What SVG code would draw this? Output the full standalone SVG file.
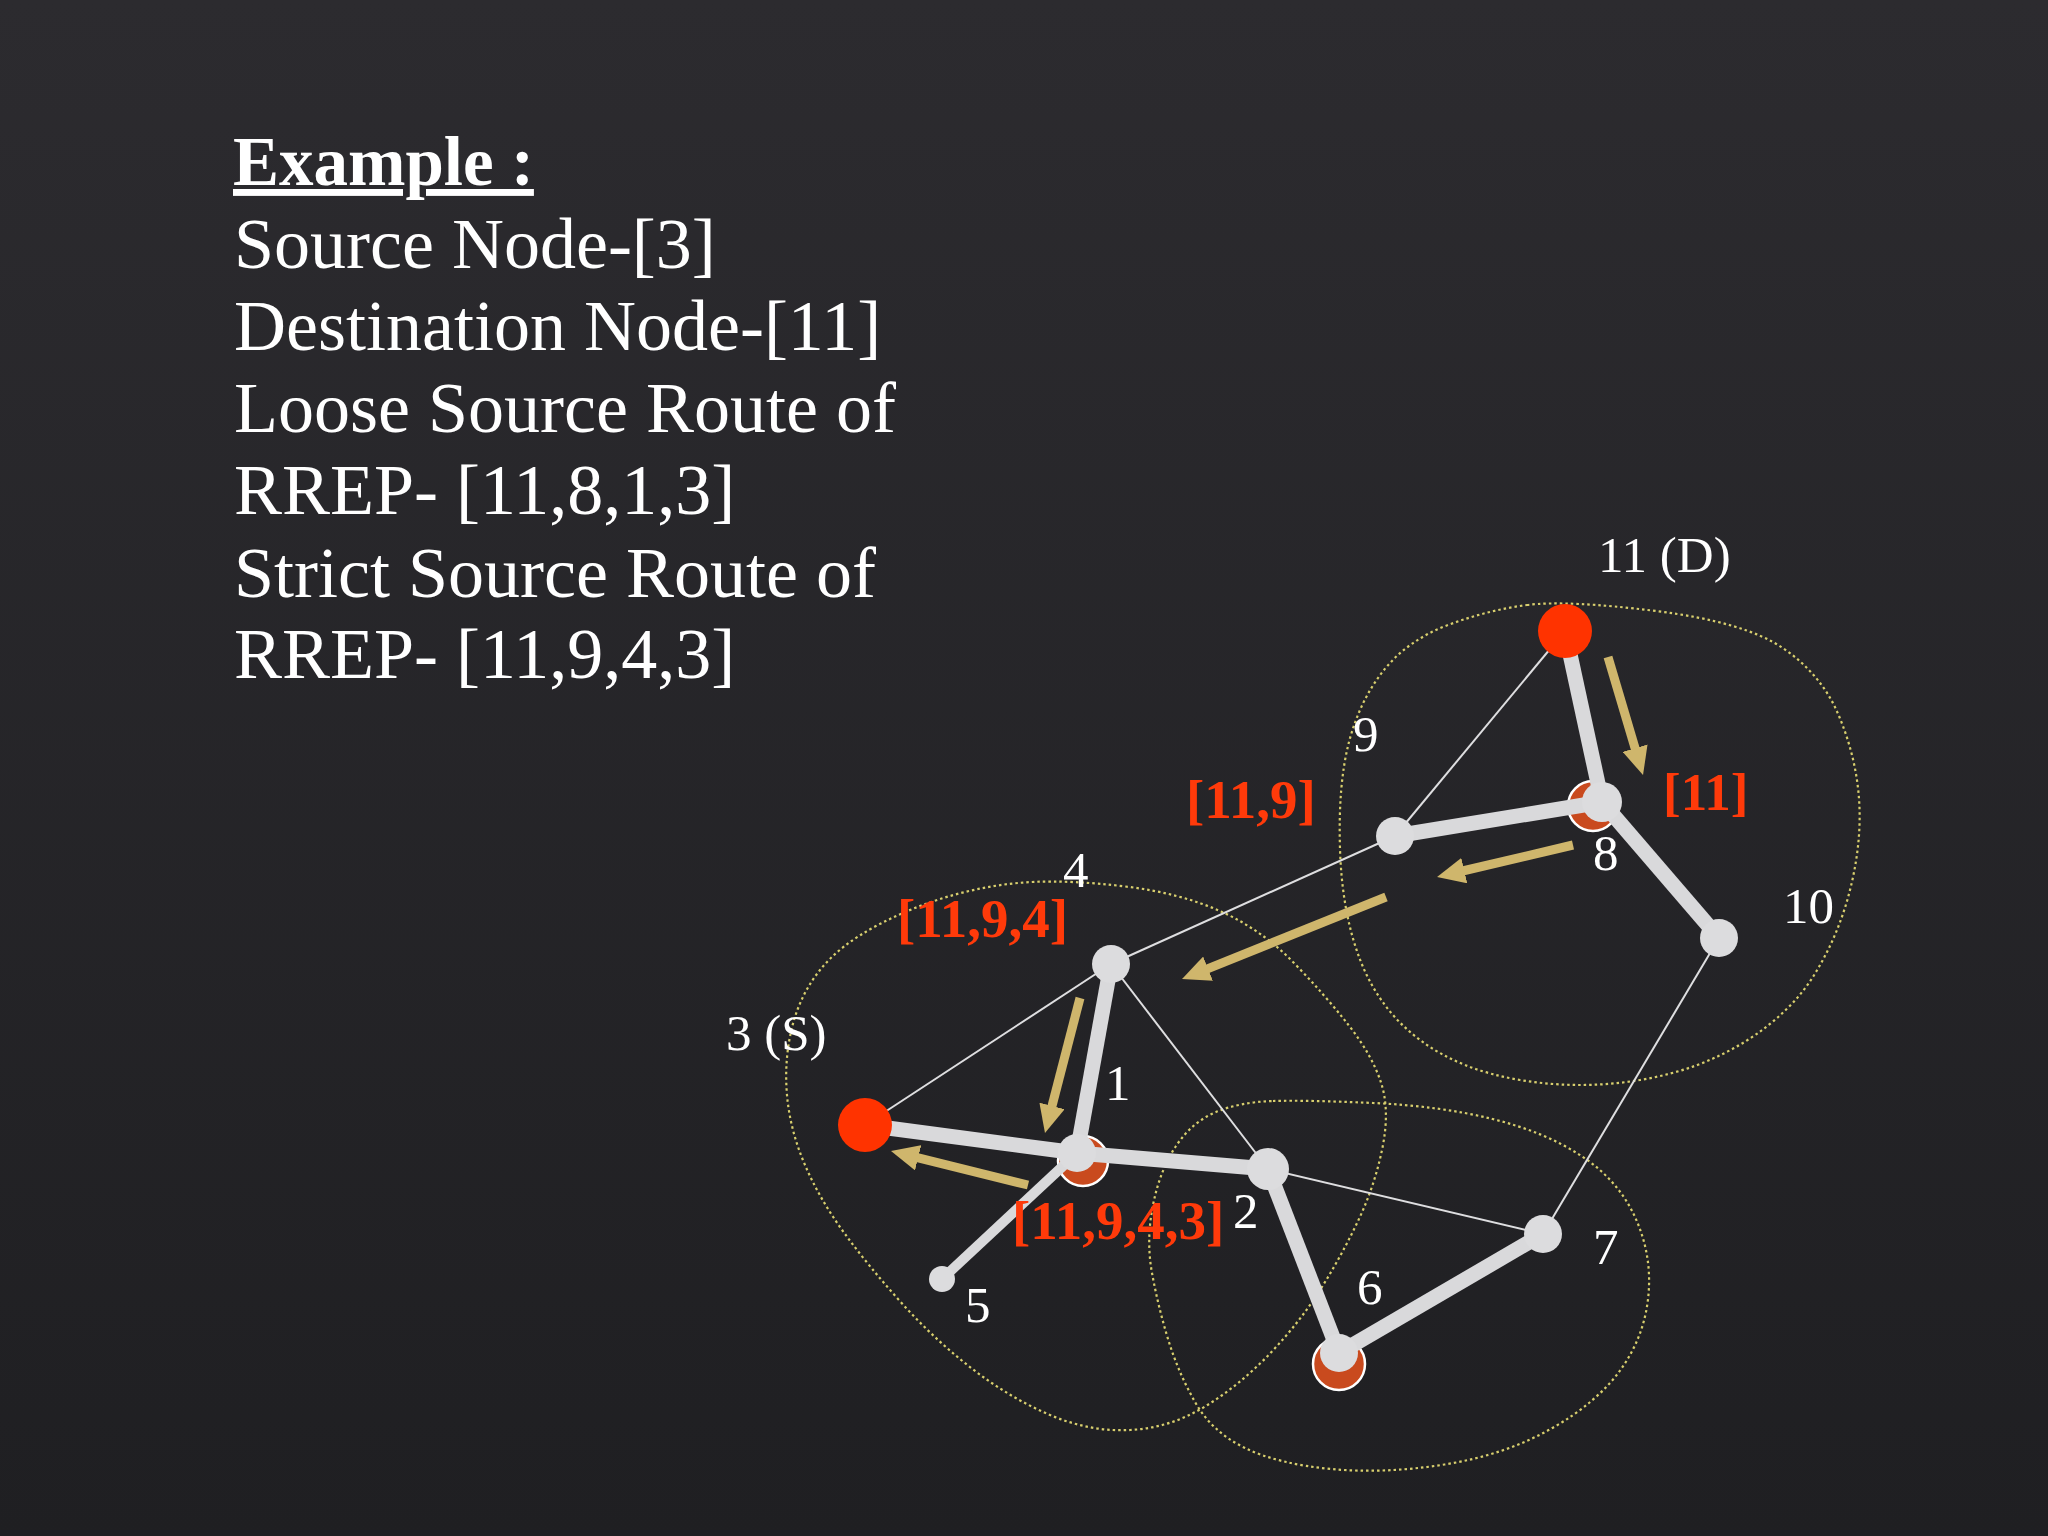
<svg xmlns="http://www.w3.org/2000/svg" width="2048" height="1536" viewBox="0 0 2048 1536">
  <defs>
    <linearGradient id="bg" x1="0" y1="0" x2="0" y2="1">
      <stop offset="0" stop-color="#2c2b2f"/>
      <stop offset="1" stop-color="#1f1f22"/>
    </linearGradient>
    <marker id="ah" viewBox="0 0 28 26" refX="4" refY="13" markerWidth="28" markerHeight="26" markerUnits="userSpaceOnUse" orient="auto">
      <path d="M0,0 L28,13 L0,26 Z" fill="#cfb66c"/>
    </marker>
    <style>
      .txt { font-family: "Liberation Serif", "Times New Roman", serif; fill: #ffffff; }
      .main { font-size: 72px; }
      .head { font-size: 69px; font-weight: bold; text-decoration: underline; }
      .lbl { font-family: "Liberation Serif", "Times New Roman", serif; font-size: 51px; fill: #ffffff; }
      .rt { font-family: "Liberation Serif", "Times New Roman", serif; font-size: 55px; font-weight: bold; fill: #ff3a0a; }
      .rt11 { font-size: 53px; }
      .range { fill: none; stroke: #d8cf6e; stroke-width: 2.2; stroke-dasharray: 2.5 3; }
      .thin { stroke: #dedee0; stroke-width: 2; fill: none; }
      .thick { stroke: #d9d9db; stroke-width: 15; fill: none; }
      .thick5 { stroke: #d9d9db; stroke-width: 10; fill: none; }
      .arrow { stroke: #cfb66c; stroke-width: 9; fill: none; marker-end: url(#ah); }
      .wn { fill: #dcdcde; }
      .rn { fill: #ff3300; }
      .on { fill: #c94a1e; stroke: #ffffff; stroke-width: 2.5; }
    </style>
  </defs>

  <rect x="0" y="0" width="2048" height="1536" fill="url(#bg)"/>

  <!-- Text block -->
  <g id="description">
    <text class="txt head" x="233" y="185">Example :</text>
    <text class="txt main" x="234" y="268">Source Node-[3]</text>
    <text class="txt main" x="234" y="350">Destination Node-[11]</text>
    <text class="txt main" x="234" y="432">Loose Source Route of</text>
    <text class="txt main" x="234" y="514">RREP- [11,8,1,3]</text>
    <text class="txt main" x="234" y="597">Strict Source Route of</text>
    <text class="txt main" x="234" y="678">RREP- [11,9,4,3]</text>
  </g>

  <!-- Transmission ranges -->
  <g id="ranges">
    <path class="range" d="M1527,605 Q1567,600 1656,611 Q1745,622 1783.5,648.5 Q1822,675 1839,716 Q1856,757 1859,798.5 Q1862,840 1851,886 Q1840,932 1816,972 Q1792,1012 1746,1041 Q1700,1070 1640,1080 Q1580,1090 1520,1080 Q1460,1070 1420,1040 Q1380,1010 1361,962 Q1342,914 1340,849 Q1338,784 1349,742 Q1360,700 1384,670 Q1408,640 1448,625 Q1488,610 1527,605 Z"/>
    <path class="range" d="M1032,882 Q1071,880 1125.5,886.5 Q1180,893 1221,911.5 Q1262,930 1293.5,962.5 Q1325,995 1348.5,1025 Q1372,1055 1381,1082.5 Q1390,1110 1382.5,1147.5 Q1375,1185 1358.5,1220 Q1342,1255 1321,1288.5 Q1300,1322 1270,1353.5 Q1240,1385 1205,1406.5 Q1170,1428 1130,1430 Q1090,1432 1050,1415 Q1010,1398 972.5,1369 Q935,1340 902.5,1304 Q870,1268 845,1234 Q820,1200 805,1165 Q790,1130 787,1095 Q784,1060 792,1027.5 Q800,995 820,970 Q840,945 877,925.5 Q914,906 953.5,895 Q993,884 1032,882 Z"/>
    <path class="range" d="M1273,1101 Q1306,1100 1373,1103 Q1440,1106 1492.5,1119 Q1545,1132 1581.5,1156 Q1618,1180 1635,1217 Q1652,1254 1648.5,1294.5 Q1645,1335 1621.5,1368.5 Q1598,1402 1551.5,1428.5 Q1505,1455 1444.5,1464.5 Q1384,1474 1331,1469 Q1278,1464 1245,1448 Q1212,1432 1195,1402 Q1178,1372 1168,1339 Q1158,1306 1152,1273 Q1146,1240 1153,1205 Q1160,1170 1176,1146 Q1192,1122 1216,1112 Q1240,1102 1273,1101 Z"/>
  </g>

  <!-- Connectors -->
  <g id="connectors">
    <line class="thin" x1="1565" y1="631" x2="1395" y2="836"/>
    <line class="thin" x1="1395" y1="836" x2="1111" y2="964"/>
    <line class="thin" x1="1111" y1="964" x2="865" y2="1125"/>
    <line class="thin" x1="1111" y1="964" x2="1268" y2="1169"/>
    <line class="thin" x1="1268" y1="1169" x2="1543" y2="1234"/>
    <line class="thin" x1="1719" y1="938" x2="1543" y2="1234"/>
  </g>

  <g id="relay-marks">
    <circle class="on" cx="1593" cy="806" r="25"/>
    <circle class="on" cx="1083" cy="1161" r="25"/>
    <circle class="on" cx="1339" cy="1364" r="26"/>
  </g>

  <g id="route-links">
    <line class="thick" x1="1565" y1="631" x2="1602" y2="802"/>
    <line class="thick" x1="1602" y1="802" x2="1395" y2="836"/>
    <line class="thick" x1="1602" y1="802" x2="1719" y2="938"/>
    <line class="thick" x1="1111" y1="964" x2="1077" y2="1153"/>
    <line class="thick" x1="865" y1="1125" x2="1077" y2="1153"/>
    <line class="thick" x1="1077" y1="1153" x2="1268" y2="1169"/>
    <line class="thick5" x1="1077" y1="1153" x2="942" y2="1279"/>
    <line class="thick" x1="1268" y1="1169" x2="1339" y2="1353"/>
    <line class="thick" x1="1339" y1="1353" x2="1543" y2="1234"/>
  </g>

  <!-- Nodes -->
  <g id="node-11"><circle class="rn" cx="1565" cy="631" r="27"/><text class="lbl" x="1598" y="572">11 (D)</text></g>
  <g id="node-8"><circle class="wn" cx="1602" cy="802" r="20"/><text class="lbl" x="1593" y="870">8</text></g>
  <g id="node-9"><circle class="wn" cx="1395" cy="836" r="19"/><text class="lbl" x="1353" y="751">9</text></g>
  <g id="node-10"><circle class="wn" cx="1719" cy="938" r="19"/><text class="lbl" x="1783" y="923">10</text></g>
  <g id="node-4"><circle class="wn" cx="1111" cy="964" r="19"/><text class="lbl" x="1063" y="887">4</text></g>
  <g id="node-3"><circle class="rn" cx="865" cy="1125" r="27"/><text class="lbl" x="726" y="1050">3 (S)</text></g>
  <g id="node-1"><circle class="wn" cx="1077" cy="1153" r="19"/><text class="lbl" x="1105" y="1100">1</text></g>
  <g id="node-2"><circle class="wn" cx="1268" cy="1169" r="21"/><text class="lbl" x="1233" y="1228">2</text></g>
  <g id="node-5"><circle class="wn" cx="942" cy="1279" r="13"/><text class="lbl" x="965" y="1322">5</text></g>
  <g id="node-6"><circle class="wn" cx="1339" cy="1353" r="19"/><text class="lbl" x="1357" y="1304">6</text></g>
  <g id="node-7"><circle class="wn" cx="1543" cy="1234" r="19"/><text class="lbl" x="1593" y="1264">7</text></g>

  <!-- Route reply arrows -->
  <g id="arrows">
    <line class="arrow" x1="1608" y1="657" x2="1636.2" y2="752"/>
    <line class="arrow" x1="1573" y1="845" x2="1460.4" y2="871.5"/>
    <line class="arrow" x1="1386" y1="897" x2="1204.3" y2="970.1"/>
    <line class="arrow" x1="1080" y1="998" x2="1051" y2="1109.8"/>
    <line class="arrow" x1="1028" y1="1185" x2="914.3" y2="1156.8"/>
  </g>

  <!-- Route record labels -->
  <g id="route-labels">
    <text class="rt rt11" x="1663" y="810">[11]</text>
    <text class="rt" x="1186" y="818">[11,9]</text>
    <text class="rt" x="897" y="937">[11,9,4]</text>
    <text class="rt" x="1012" y="1239">[11,9,4,3]</text>
  </g>
</svg>
